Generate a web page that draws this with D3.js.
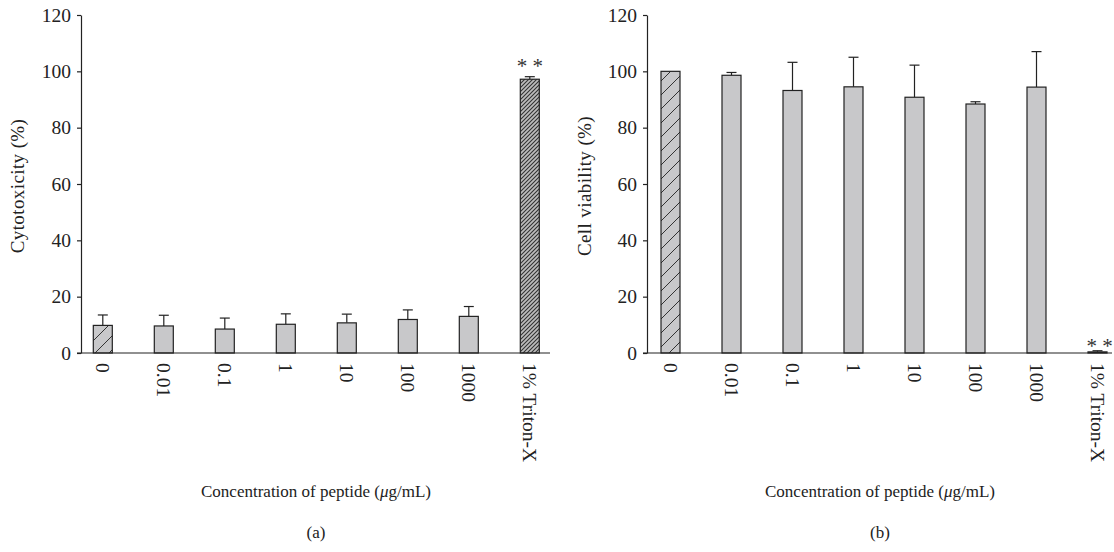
<!DOCTYPE html>
<html>
<head>
<meta charset="utf-8">
<script src="https://cdnjs.cloudflare.com/ajax/libs/d3/7.8.5/d3.min.js"></script>
<style>
  body { margin: 0; background: #fff; }
  svg { display: block; font-family: "Liberation Serif", "DejaVu Serif", serif; }
</style>
</head>
<body>
<div id="chart"></div>
<script>
// values
const categories = ["0", "0.01", "0.1", "1", "10", "100", "1000", "1% Triton-X"];
const cytoMean = [9.8, 9.6, 8.5, 10.2, 10.7, 11.9, 13.0, 97.2];
const cytoErr = [3.7, 3.8, 3.9, 3.7, 3.1, 3.4, 3.5, 0.9];
const viabMean = [100, 98.6, 93.2, 94.5, 90.8, 88.4, 94.4, 0.4];
const viabErr = [0, 1.0, 10.0, 10.5, 11.4, 0.8, 12.6, 0.4];
const yTicks = [0, 20, 40, 60, 80, 100, 120];

const width = 1114, height = 552;
const barW = 19;

const svg = d3.select('#chart').append('svg')
    .attr('width', width)
    .attr('height', height);

svg.append('rect').attr('width', width).attr('height', height).attr('fill', '#fff');

// hatch patterns
const defs = svg.append('defs');
const sparse = defs.append('pattern')
    .attr('id', 'hatchSparse')
    .attr('patternUnits', 'userSpaceOnUse')
    .attr('width', 14).attr('height', 14);
sparse.append('rect').attr('width', 14).attr('height', 14).attr('fill', '#c8c8ca');
sparse.append('path')
    .attr('d', 'M-3.5,3.5L3.5,-3.5M0,14L14,0M10.5,17.5L17.5,10.5')
    .attr('stroke', '#333').attr('stroke-width', 1);

const dense = defs.append('pattern')
    .attr('id', 'hatchDense')
    .attr('patternUnits', 'userSpaceOnUse')
    .attr('width', 4).attr('height', 4);
dense.append('rect').attr('width', 4).attr('height', 4).attr('fill', '#bdbdbd');
dense.append('path')
    .attr('d', 'M-1,1L1,-1M0,4L4,0M3,5L5,3')
    .attr('stroke', '#333').attr('stroke-width', 1.1);

const y = d3.scaleLinear().domain([0, 120]).range([353, 15]);

function drawPanel(cfg) {
    const x = d3.scalePoint().domain(categories).range(cfg.centers);
    const g = svg.append('g');

    // y axis
    const yAxis = g.append('g')
        .attr('transform', 'translate(' + cfg.axisX + ',0)')
        .call(d3.axisLeft(y).tickValues(yTicks).tickSize(4).tickSizeOuter(0).tickPadding(6));
    yAxis.select('.domain').attr('stroke', '#222').attr('stroke-width', 1.2);
    yAxis.selectAll('.tick line').attr('stroke', '#222').attr('stroke-width', 1.2);
    yAxis.selectAll('text')
        .attr('font-family', '"Liberation Serif", serif')
        .attr('font-size', 19.5)
        .attr('fill', '#222');

    const data = categories.map((c, i) => ({ cat: c, v: cfg.mean[i], e: cfg.err[i], i: i }));

    // error bars (upper only)
    const eb = g.append('g').selectAll('g').data(data.filter(d => d.e > 0)).enter().append('g');
    eb.append('line')
        .attr('x1', d => x(d.cat)).attr('x2', d => x(d.cat))
        .attr('y1', d => y(d.v)).attr('y2', d => y(d.v + d.e))
        .attr('stroke', '#222').attr('stroke-width', 1.2);
    eb.append('line')
        .attr('x1', d => x(d.cat) - 5).attr('x2', d => x(d.cat) + 5)
        .attr('y1', d => y(d.v + d.e)).attr('y2', d => y(d.v + d.e))
        .attr('stroke', '#222').attr('stroke-width', 1.2);

    // bars
    g.append('g').selectAll('rect').data(data).enter().append('rect')
        .attr('x', d => x(d.cat) - barW / 2)
        .attr('y', d => y(d.v))
        .attr('width', barW)
        .attr('height', d => y(0) - y(d.v))
        .attr('fill', d => cfg.fills[d.i])
        .attr('stroke', '#222')
        .attr('stroke-width', 1.2);

    // x axis line
    g.append('line')
        .attr('x1', cfg.axisX - 4).attr('x2', cfg.axisEnd)
        .attr('y1', y(0)).attr('y2', y(0))
        .attr('stroke', '#222').attr('stroke-width', 1.2);

    const xAxis = g.append('g')
        .attr('transform', 'translate(0,' + y(0) + ')')
        .call(d3.axisBottom(x).tickSize(0));
    xAxis.select('.domain').remove();
    xAxis.selectAll('text')
        .attr('transform', 'rotate(90)')
        .attr('x', 10).attr('y', 0).attr('dy', '0.35em')
        .attr('text-anchor', 'start')
        .attr('font-family', '"Liberation Serif", serif')
        .attr('font-size', 19.5)
        .attr('fill', '#222');

    // significance marks
    const last = data[data.length - 1];
    g.append('text')
        .attr('x', x(last.cat) + cfg.starDx)
        .attr('y', y(last.v + last.e) + cfg.starShift)
        .attr('text-anchor', 'middle')
        .attr('font-size', 21)
        .attr('fill', '#333')
        .text('* *');

    // titles
    g.append('text')
        .attr('transform', 'translate(' + cfg.titleX + ',186) rotate(-90)')
        .attr('text-anchor', 'middle')
        .attr('font-size', 19)
        .attr('letter-spacing', 0.4)
        .attr('fill', '#222')
        .text(cfg.yTitle);

    const xt = g.append('text')
        .attr('x', cfg.midX).attr('y', 497)
        .attr('text-anchor', 'middle')
        .attr('font-size', 17)
        .attr('fill', '#222');
    xt.append('tspan').text('Concentration of peptide (');
    xt.append('tspan').attr('font-style', 'italic').text('\u03BC');
    xt.append('tspan').text('g/mL)');

    g.append('text')
        .attr('x', cfg.midX).attr('y', 538)
        .attr('text-anchor', 'middle')
        .attr('font-size', 17)
        .attr('fill', '#222')
        .text(cfg.label);
}

const fillsA = ['url(#hatchSparse)', '#c8c8ca', '#c8c8ca', '#c8c8ca', '#c8c8ca', '#c8c8ca', '#c8c8ca', 'url(#hatchDense)'];
const fillsB = ['url(#hatchSparse)', '#c8c8ca', '#c8c8ca', '#c8c8ca', '#c8c8ca', '#c8c8ca', '#c8c8ca', '#c8c8ca'];

drawPanel({
    axisX: 81, axisEnd: 550, centers: [102.8, 529.8],
    mean: cytoMean, err: cytoErr, fills: fillsA,
    yTitle: 'Cytotoxicity (%)', titleX: 24, midX: 316, label: '(a)', starShift: -4, starDx: 0
});
drawPanel({
    axisX: 647, axisEnd: 1112, centers: [670.5, 1097.5],
    mean: viabMean, err: viabErr, fills: fillsB,
    yTitle: 'Cell viability (%)', titleX: 591, midX: 880, label: '(b)', starShift: 2, starDx: 2
});
</script>
</body>
</html>
